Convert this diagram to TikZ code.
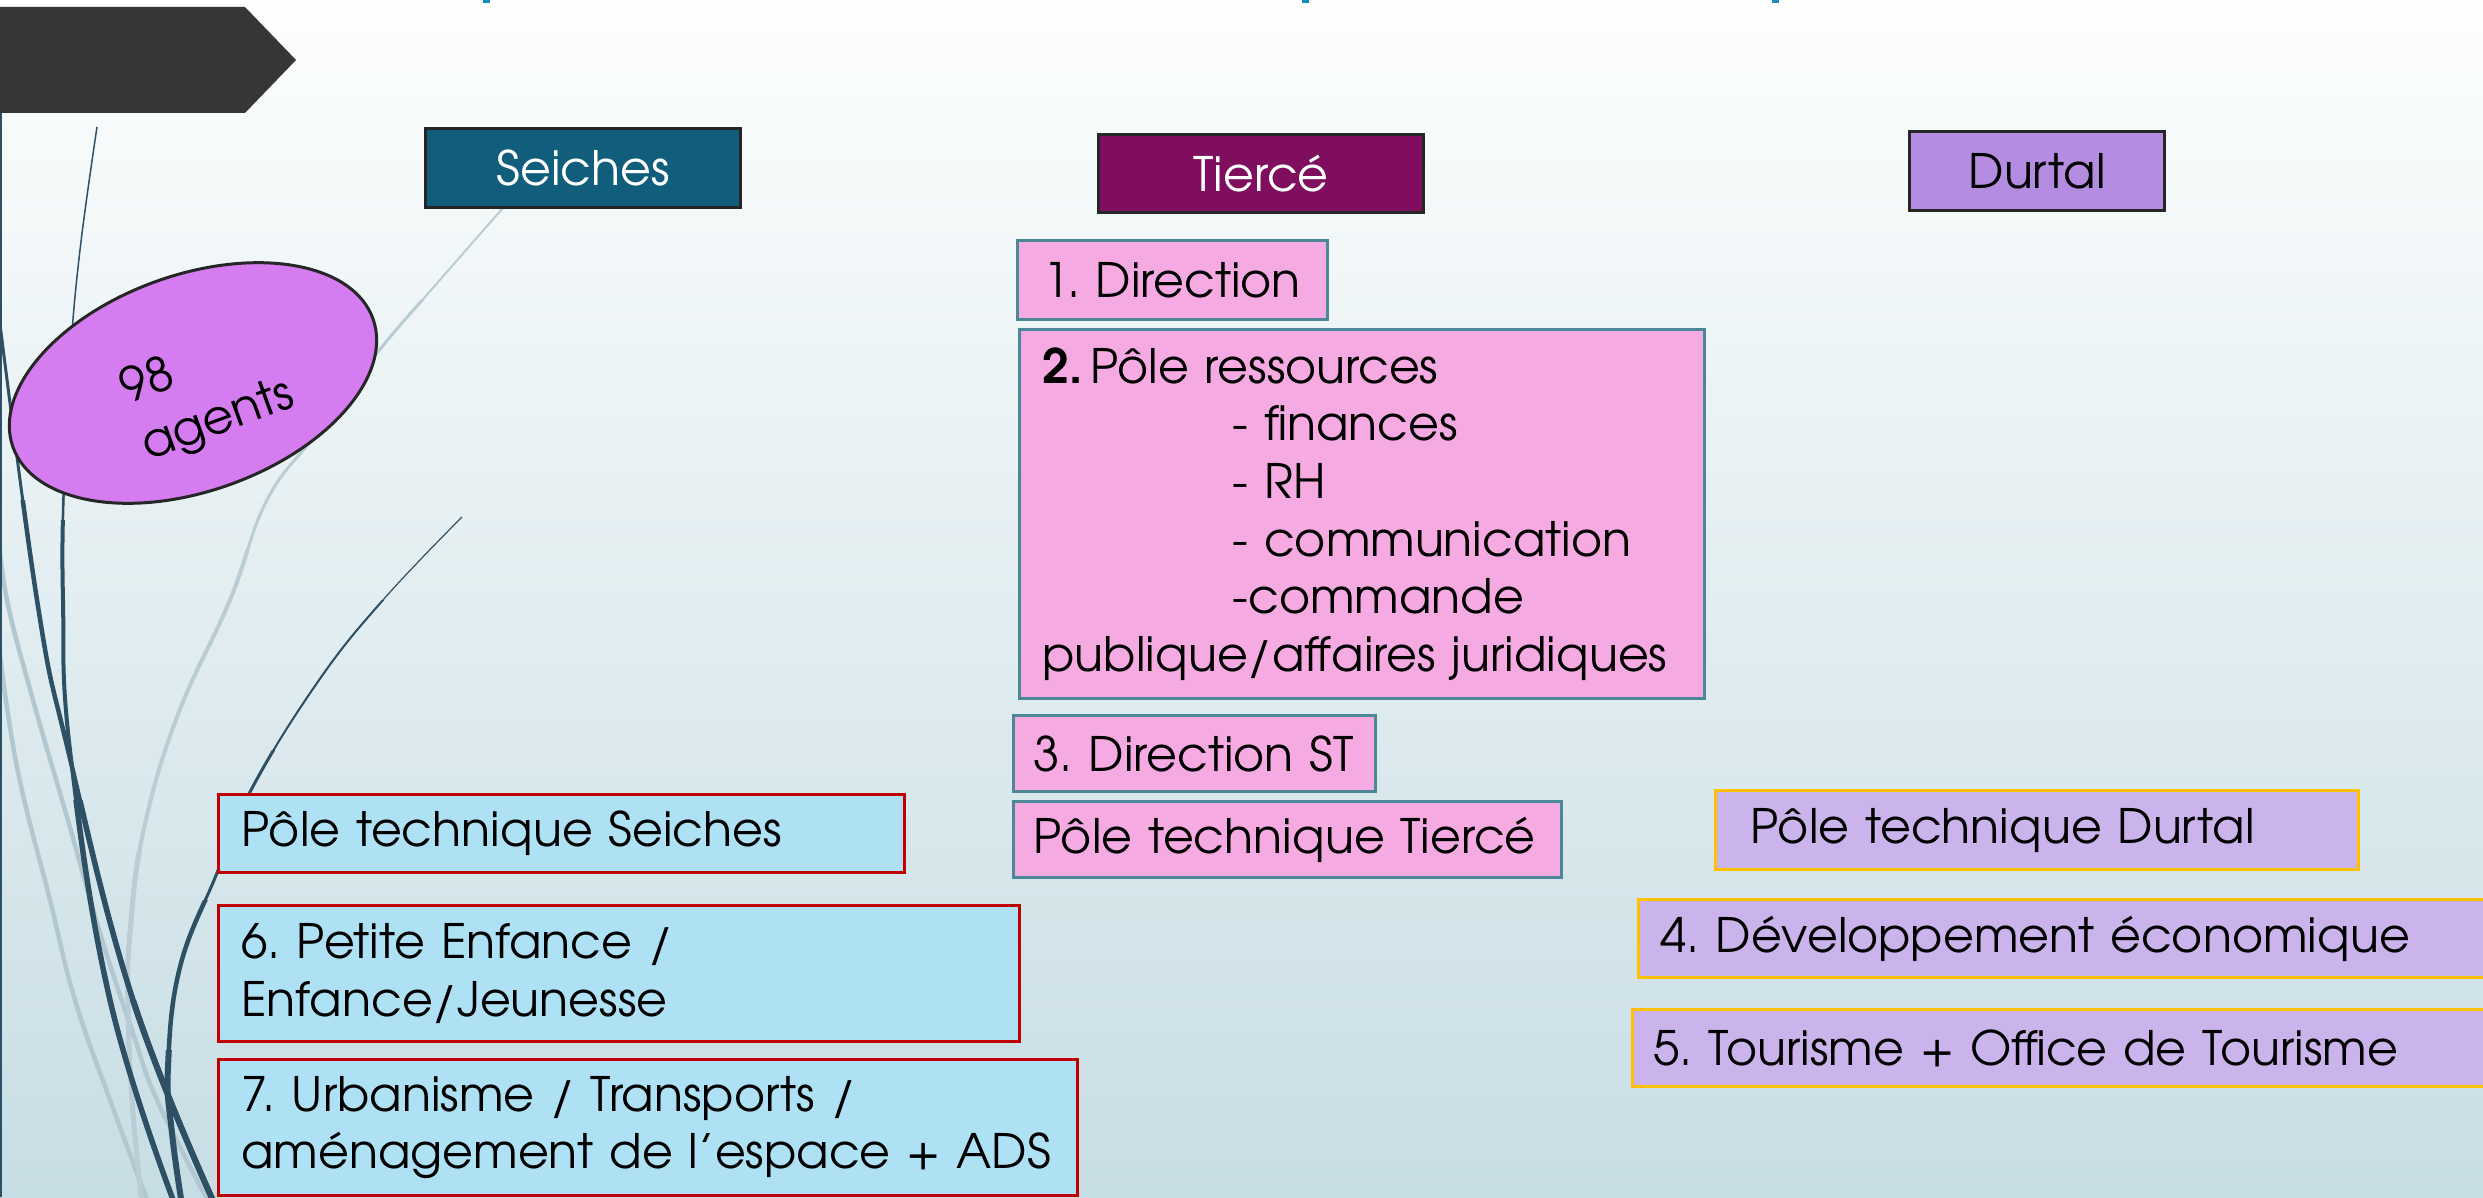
\documentclass[tikz,border=0pt]{standalone}
\usepackage{fontspec}
\setmainfont{texgyreadventor-regular.otf}[BoldFont=texgyreadventor-bold.otf]
\usetikzlibrary{shapes.geometric}
\frenchspacing
\definecolor{bgtop}{RGB}{253,254,254}
\definecolor{bgbot}{RGB}{199,221,228}
\definecolor{dk}{RGB}{46,80,100}
\definecolor{lt}{RGB}{178,199,208}
\definecolor{ltE}{RGB}{186,204,212}
\definecolor{titleblue}{RGB}{30,140,190}
\definecolor{darkshape}{RGB}{54,54,54}
\definecolor{hdrbd}{RGB}{38,38,38}
\definecolor{seichesfill}{RGB}{16,94,123}
\definecolor{tiercefill}{RGB}{127,15,94}
\definecolor{durtalfill}{RGB}{180,140,226}
\definecolor{pinkfill}{RGB}{245,170,226}
\definecolor{pinkbd}{RGB}{75,135,150}
\definecolor{bluefill}{RGB}{175,225,245}
\definecolor{redbd}{RGB}{192,0,0}
\definecolor{lavfill}{RGB}{203,179,235}
\definecolor{goldbd}{RGB}{255,192,0}
\definecolor{ellfill}{RGB}{213,125,240}
\newcommand\boxfont{\fontsize{13.5pt}{16.4pt}\selectfont}
\begin{document}
\begin{tikzpicture}[x=0.01cm,y=-0.01cm,
  hdr/.style={draw=hdrbd, line width=0.03cm, anchor=north west, inner sep=0pt, align=center, font=\boxfont},
  basebox/.style={line width=0.03cm, anchor=north west, inner ysep=0pt, align=left, font=\boxfont},
  pinkbox/.style={basebox, draw=pinkbd, fill=pinkfill},
  bluebox/.style={basebox, draw=redbd, fill=bluefill},
  lavbox/.style={basebox, draw=goldbd, fill=lavfill}]
\useasboundingbox (0,0) rectangle (2483,1197);
\shade[top color=bgtop, bottom color=bgbot] (0,0) rectangle (2483,1197);

% decorative curves
\def\crvA{plot[smooth, tension=0.7] coordinates {(-3,300) (37,600) (68,750) (133,1000) (215,1205)}}
\def\crvC{plot[smooth, tension=0.7] coordinates {(97,127) (80,250) (70,360) (64,480) (63,600) (70,750) (110,1000) (175,1205)}}
\def\crvD{plot[smooth, tension=0.7] coordinates {(462,517) (383,600) (317,683) (250,792) (217,873) (180,967) (168,1067) (172,1133) (182,1205)}}
\def\crvE{plot[smooth, tension=0.7] coordinates {(510,200) (439,281) (377,353) (317,433) (267,500) (230,600) (177,717) (143,833) (130,933) (128,1000) (132,1100) (142,1205)}}
\def\crvF{plot[smooth, tension=0.7] coordinates {(-2,530) (7,600) (33,700) (67,817) (100,933) (133,1033) (157,1100) (210,1205)}}
\def\crvG{plot[smooth, tension=0.7] coordinates {(-2,640) (17,767) (50,900) (75,1000) (110,1100) (149,1205)}}

\draw[lt, line width=0.045cm] \crvF;
\draw[lt, line width=0.045cm] \crvG;
\foreach \yc/\w in {0/2, 300/3, 550/4, 850/5}{
  \begin{scope}\clip (-10,\yc) rectangle (800,1210);
  \draw[ltE, line width=\w*0.01cm] \crvE;\end{scope}}
\foreach \yc/\w in {0/3, 500/4.5, 800/5.5, 1000/6}{
  \begin{scope}\clip (-10,\yc) rectangle (800,1210);
  \draw[dk, line width=\w*0.01cm] \crvA;\end{scope}}
\foreach \yc/\w in {0/1.5, 350/2.5, 520/4, 800/5.5}{
  \begin{scope}\clip (-10,\yc) rectangle (800,1210);
  \draw[dk, line width=\w*0.01cm] \crvC;\end{scope}}
\foreach \yc/\w in {0/1.2, 600/2, 750/3, 900/4.5, 1050/6}{
  \begin{scope}\clip (-10,\yc) rectangle (800,1210);
  \draw[dk, line width=\w*0.01cm] \crvD;\end{scope}}

% left border
\draw[dk, line width=0.02cm] (1,113) -- (1,1197);

% title fragments and title arrow
\fill[titleblue] (483,0) rectangle (490,3);
\fill[titleblue] (1302,0) rectangle (1309,3);
\fill[titleblue] (1772,0) rectangle (1779,3);
\fill[darkshape] (0,7) -- (245,7) -- (296,60) -- (245,113) -- (0,113) -- cycle;

% ellipse
\node[ellipse, draw=hdrbd, fill=ellfill, line width=0.03cm, minimum width=3.82cm,
      minimum height=2.16cm, inner sep=0pt, rotate=19.6] (ell) at (193,383) {};
\node[rotate=20, align=left, inner sep=0pt, font=\fontsize{13.5pt}{17pt}\selectfont] (ellTxt) at (208,393) {98\\agents};

% headers
\node[hdr, fill=seichesfill, text=white, minimum width=3.15cm, minimum height=0.79cm] (hS) at (424,127) {Seiches};
\node[hdr, fill=tiercefill, text=white, minimum width=3.25cm, minimum height=0.78cm] (hT) at (1097,133) {Tiercé};
\node[hdr, fill=durtalfill, text=black, minimum width=2.55cm, minimum height=0.79cm] (hD) at (1908,130) {Durtal};

% Tiercé column
\node[pinkbox, inner xsep=0.26cm, text width=2.58cm, minimum height=0.79cm] (dir) at (1016,239) {\mbox{1. Direction}};
\node[pinkbox, inner xsep=0.23cm, text width=6.39cm, minimum height=3.69cm] (res) at (1018,328)
  {\mbox{\textbf{2.}\,Pôle ressources}\\
   \mbox{\hspace*{1.9cm}- finances}\\
   \mbox{\hspace*{1.9cm}- RH}\\
   \mbox{\hspace*{1.9cm}- communication}\\
   \mbox{\hspace*{1.9cm}-commande}\\
   \mbox{publique/affaires juridiques}};
\node[pinkbox, inner xsep=0.20cm, text width=3.22cm, minimum height=0.76cm] (dirst) at (1012,714) {\mbox{3. Direction ST}};
\node[pinkbox, inner xsep=0.20cm, text width=5.08cm, minimum height=0.76cm] (ptT) at (1012,800) {\mbox{Pôle technique Tiercé}};

% Seiches column
\node[bluebox, inner xsep=0.23cm, text width=6.40cm, minimum height=0.78cm] (ptS) at (217,793) {\mbox{Pôle technique Seiches}};
\node[bluebox, inner xsep=0.23cm, text width=7.55cm, minimum height=1.36cm] (enf) at (217,904)
  {\mbox{6. Petite Enfance /}\\ \mbox{Enfance/Jeunesse}};
\node[bluebox, inner xsep=0.23cm, text width=8.12cm, minimum height=1.36cm] (urb) at (217,1058)
  {\mbox{7. Urbanisme / Transports /}\\ \mbox{aménagement de l'espace + ADS}};

% Durtal column
\node[lavbox, inner xsep=0.35cm, text width=5.73cm, minimum height=0.79cm] (ptD) at (1714,789) {\mbox{Pôle technique Durtal}};
\node[lavbox, inner xsep=0.22cm, text width=8.09cm, minimum height=0.78cm] (eco) at (1637,898) {\mbox{4. Développement économique}};
\node[lavbox, inner xsep=0.21cm, text width=8.17cm, minimum height=0.77cm] (tour) at (1631,1008) {\mbox{5. Tourisme + Office de Tourisme}};
\end{tikzpicture}
\end{document}
